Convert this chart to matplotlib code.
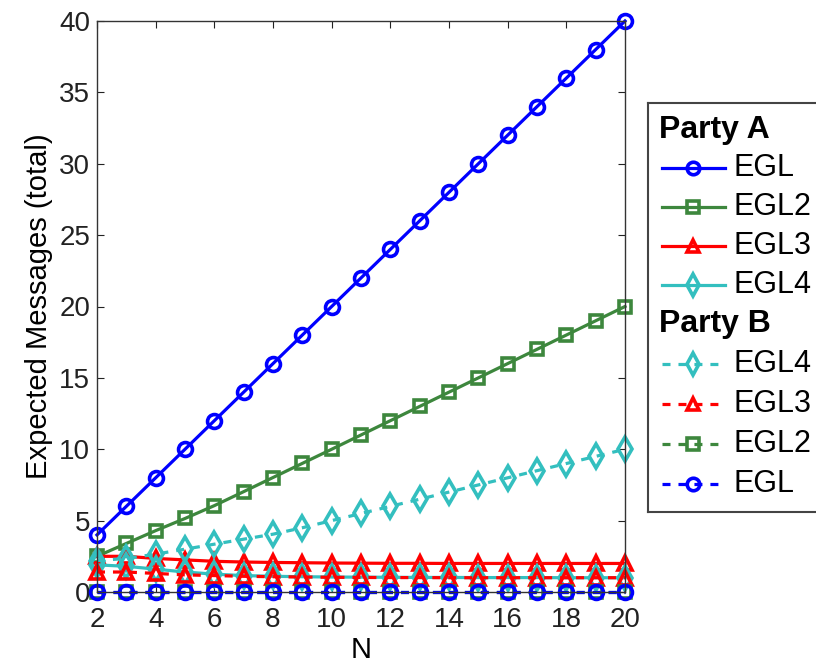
import numpy as np
import matplotlib
matplotlib.use('Agg')
import matplotlib.pyplot as plt

plt.rcParams['font.family'] = ['Liberation Sans', 'DejaVu Sans']

# Values
N = [2, 3, 4, 5, 6, 7, 8, 9, 10, 11, 12, 13, 14, 15, 16, 17, 18, 19, 20]

a_egl = [4, 6, 8, 10, 12, 14, 16, 18, 20, 22, 24, 26, 28, 30, 32, 34, 36, 38, 40]
a_egl2 = [2.5, 3.4, 4.3, 5.15, 6.05, 7.03, 8.02, 9.01, 10, 11, 12, 13, 14, 15, 16, 17, 18, 19, 20]
a_egl3 = [2.5, 2.5, 2.35, 2.25, 2.15, 2.1, 2.07, 2.05, 2.03, 2.02, 2.01, 2.01, 2, 2, 2, 2, 2, 2, 2]
a_egl4 = [1.9, 1.8, 1.6, 1.4, 1.25, 1.15, 1.1, 1.07, 1.05, 1.04, 1.03, 1.02, 1.02, 1.01, 1.01, 1.01, 1, 1, 1]

b_egl4 = [2.2, 2.35, 2.65, 3.0, 3.35, 3.7, 4.05, 4.5, 5.0, 5.5, 6.0, 6.5, 7.0, 7.5, 8.0, 8.5, 9.0, 9.5, 10.0]
b_egl3 = [1.4, 1.4, 1.3, 1.2, 1.15, 1.1, 1.07, 1.05, 1.03, 1.02, 1.01, 1.01, 1, 1, 1, 1, 1, 1, 1]
b_egl2 = [0] * 19
b_egl = [0] * 19

blue = (0, 0, 1)
green = (0.24, 0.53, 0.24)
red = (1, 0, 0)
cyan = (0.2, 0.75, 0.75)
dash = (0, (2.5, 2.5))

# (label, values, colour, marker, size)
series_a = [
    ('EGL', a_egl, blue, 'o', 10),
    ('EGL2', a_egl2, green, 's', 9),
    ('EGL3', a_egl3, red, '^', 10),
    ('EGL4', a_egl4, cyan, 'd', 12),
]
series_b = [
    ('EGL4', b_egl4, cyan, 'd', 12),
    ('EGL3', b_egl3, red, '^', 10),
    ('EGL2', b_egl2, green, 's', 9),
    ('EGL', b_egl, blue, 'o', 10),
]

lw = 2.3
mew = 2.6

fig = plt.figure(figsize=(8.16, 6.64), dpi=100)
ax = fig.add_axes([97 / 816, 1 - 592 / 664, 528 / 816, 571 / 664])

for label, vals, col, mk, ms in series_a:
    ax.plot(N, vals, color=col, lw=lw, marker=mk, ms=ms, mew=mew,
            mfc='none', mec=col, clip_on=False)
for label, vals, col, mk, ms in series_b:
    ax.plot(N, vals, color=col, lw=lw, ls=dash, marker=mk, ms=ms, mew=mew,
            mfc='none', mec=col, clip_on=False)

ax.set_xlim(2, 20)
ax.set_ylim(0, 40)
ax.set_xticks(np.arange(2, 21, 2))
ax.set_yticks(np.arange(0, 41, 5))
ax.tick_params(direction='in', top=True, right=True, length=5, width=0.8,
               labelsize=20, colors='#222222')
ax.tick_params(axis='x', pad=11)
ax.tick_params(axis='y', pad=5)
for sp in ax.spines.values():
    sp.set_linewidth(1.0)
    sp.set_color('#333333')
ax.set_xlabel('N', fontsize=21, labelpad=2)
ax.set_ylabel('Expected Messages (total)', fontsize=21, labelpad=4)

# Legend drawn in its own axes (pixel-like coordinates), right edge clipped by figure
lg = fig.add_axes([648 / 816, 1 - 512 / 664, 180 / 816, 409 / 664])
lg.set_xlim(648, 828)
lg.set_ylim(512, 103)
lg.set_xticks([])
lg.set_yticks([])
for sp in lg.spines.values():
    sp.set_linewidth(1.5)
    sp.set_color('#444444')

row_y = [130, 168, 207, 246, 285, 324, 364, 404, 444, 484]
fs_leg = 22
lg.text(659, row_y[0], 'Party A', fontsize=23, fontweight='bold',
        va='center', ha='left')
for (label, vals, col, mk, ms), y in zip(series_a, row_y[1:5]):
    lg.plot([662, 725], [y, y], color=col, lw=lw)
    lg.plot([693], [y], color=col, marker=mk, ms=ms - 1, mew=mew, mfc='none', mec=col)
    lg.text(734, y, label, fontsize=fs_leg, va='center', ha='left')
lg.text(659, row_y[5], 'Party B', fontsize=23, fontweight='bold',
        va='center', ha='left')
for (label, vals, col, mk, ms), y in zip(series_b, row_y[6:]):
    lg.plot([662, 725], [y, y], color=col, lw=lw, ls=dash)
    lg.plot([693], [y], color=col, marker=mk, ms=ms - 1, mew=mew, mfc='none', mec=col)
    lg.text(734, y, label, fontsize=fs_leg, va='center', ha='left')

fig.savefig('out.png', dpi=100)
